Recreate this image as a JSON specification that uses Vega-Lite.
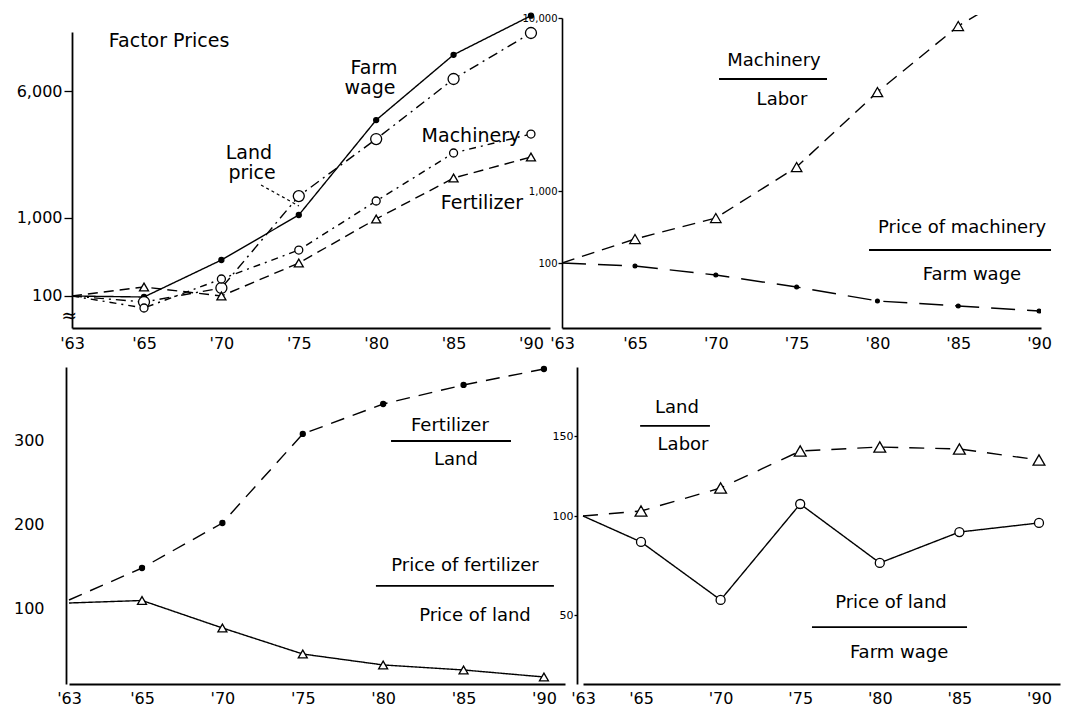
{
  "$schema": "https://vega.github.io/schema/vega-lite/v6.json",
  "background": "white",
  "padding": {"left": 13, "top": 10, "right": 5, "bottom": 5},
  "config": {
    "view": {"stroke": null},
    "font": "DejaVu Sans",
    "axis": {"grid": false, "domainColor": "black", "domainWidth": 1.6, "tickColor": "black", "tickWidth": 1.3, "labelColor": "black", "labelFont": "DejaVu Sans", "title": null, "labelFlush": false},
    "text": {"font": "DejaVu Sans"}
  },
  "datasets": {
    "tl": [
      {"year": 1963, "value": 100, "series": "Farm wage"},
      {"year": 1965, "value": 95.4, "series": "Farm wage"},
      {"year": 1970, "value": 367, "series": "Farm wage"},
      {"year": 1975, "value": 1060, "series": "Farm wage"},
      {"year": 1980, "value": 4370, "series": "Farm wage"},
      {"year": 1985, "value": 8550, "series": "Farm wage"},
      {"year": 1990, "value": 11950, "series": "Farm wage"},
      {"year": 1963, "value": 100, "series": "Land price"},
      {"year": 1965, "value": 74.6, "series": "Land price"},
      {"year": 1970, "value": 141.5, "series": "Land price"},
      {"year": 1975, "value": 1500, "series": "Land price"},
      {"year": 1980, "value": 3470, "series": "Land price"},
      {"year": 1985, "value": 6790, "series": "Land price"},
      {"year": 1990, "value": 10355, "series": "Land price"},
      {"year": 1963, "value": 100, "series": "Machinery"},
      {"year": 1965, "value": 53.8, "series": "Machinery"},
      {"year": 1970, "value": 199.6, "series": "Machinery"},
      {"year": 1975, "value": 482, "series": "Machinery"},
      {"year": 1980, "value": 1376, "series": "Machinery"},
      {"year": 1985, "value": 2890, "series": "Machinery"},
      {"year": 1990, "value": 3695, "series": "Machinery"},
      {"year": 1963, "value": 100, "series": "Fertilizer"},
      {"year": 1965, "value": 147.4, "series": "Fertilizer"},
      {"year": 1970, "value": 100, "series": "Fertilizer"},
      {"year": 1975, "value": 336, "series": "Fertilizer"},
      {"year": 1980, "value": 980, "series": "Fertilizer"},
      {"year": 1985, "value": 2012, "series": "Fertilizer"},
      {"year": 1990, "value": 2735, "series": "Fertilizer"}
    ],
    "tl_text": [
      {"year": 1966.62, "value": 9675, "label": "Factor Prices"},
      {"year": 1979.86, "value": 7555, "label": "Farm"},
      {"year": 1979.6, "value": 6205, "label": "wage"},
      {"year": 1971.78, "value": 2888, "label": "Land"},
      {"year": 1971.98, "value": 2172, "label": "price"},
      {"year": 1986.12, "value": 3606, "label": "Machinery"},
      {"year": 1986.83, "value": 1327, "label": "Fertilizer"},
      {"year": 1962.92, "value": 32, "label": "≈"}
    ],
    "tl_arrow": [
      {"year": 1972.56, "year2": 1975.01, "value": 1802, "value2": 1257}
    ],
    "tr": [
      {"year": 1963, "value": 100, "series": "Machinery/Labor"},
      {"year": 1965, "value": 215.4, "series": "Machinery/Labor"},
      {"year": 1970, "value": 421.7, "series": "Machinery/Labor"},
      {"year": 1975, "value": 1376, "series": "Machinery/Labor"},
      {"year": 1980, "value": 3734, "series": "Machinery/Labor"},
      {"year": 1985, "value": 8990, "series": "Machinery/Labor"},
      {"year": 1990, "value": 17030, "series": "Machinery/Labor"},
      {"year": 1963, "value": 100, "series": "Price of machinery/Farm wage"},
      {"year": 1965, "value": 90.9, "series": "Price of machinery/Farm wage"},
      {"year": 1970, "value": 68.1, "series": "Price of machinery/Farm wage"},
      {"year": 1975, "value": 46.4, "series": "Price of machinery/Farm wage"},
      {"year": 1980, "value": 29.7, "series": "Price of machinery/Farm wage"},
      {"year": 1985, "value": 25.3, "series": "Price of machinery/Farm wage"},
      {"year": 1990, "value": 21.5, "series": "Price of machinery/Farm wage"}
    ],
    "tr_text": [
      {"year": 1973.6, "value": 5641, "label": "Machinery"},
      {"year": 1974.1, "value": 3357, "label": "Labor"},
      {"year": 1985.24, "value": 306, "label": "Price of machinery"},
      {"year": 1985.85, "value": 68.1, "label": "Farm wage"}
    ],
    "tr_bar": [
      {"year": 1970.2, "year2": 1976.88, "value": 4441},
      {"year": 1979.48, "year2": 1990.74, "value": 151.6}
    ],
    "bl": [
      {"year": 1963, "value": 109.6, "series": "Fertilizer/Land"},
      {"year": 1965, "value": 147.9, "series": "Fertilizer/Land"},
      {"year": 1970, "value": 201.8, "series": "Fertilizer/Land"},
      {"year": 1975, "value": 308.4, "series": "Fertilizer/Land"},
      {"year": 1980, "value": 344.3, "series": "Fertilizer/Land"},
      {"year": 1985, "value": 367.1, "series": "Fertilizer/Land"},
      {"year": 1990, "value": 386.2, "series": "Fertilizer/Land"},
      {"year": 1963, "value": 106, "series": "Price of fertilizer/Price of land"},
      {"year": 1965, "value": 109, "series": "Price of fertilizer/Price of land"},
      {"year": 1970, "value": 76.1, "series": "Price of fertilizer/Price of land"},
      {"year": 1975, "value": 44.9, "series": "Price of fertilizer/Price of land"},
      {"year": 1980, "value": 31.8, "series": "Price of fertilizer/Price of land"},
      {"year": 1985, "value": 25.8, "series": "Price of fertilizer/Price of land"},
      {"year": 1990, "value": 17.4, "series": "Price of fertilizer/Price of land"}
    ],
    "bl_text": [
      {"year": 1984.15, "value": 318, "label": "Fertilizer"},
      {"year": 1984.53, "value": 277.3, "label": "Land"},
      {"year": 1985.09, "value": 150.3, "label": "Price of fertilizer"},
      {"year": 1985.71, "value": 90.4, "label": "Price of land"}
    ],
    "bl_bar": [
      {"year": 1980.49, "year2": 1987.95, "value": 300},
      {"year": 1979.55, "year2": 1990.62, "value": 126.4}
    ],
    "br": [
      {"year": 1963, "value": 100, "series": "Land/Labor"},
      {"year": 1965, "value": 103.1, "series": "Land/Labor"},
      {"year": 1970, "value": 117.5, "series": "Land/Labor"},
      {"year": 1975, "value": 140.6, "series": "Land/Labor"},
      {"year": 1980, "value": 143.1, "series": "Land/Labor"},
      {"year": 1985, "value": 141.9, "series": "Land/Labor"},
      {"year": 1990, "value": 135, "series": "Land/Labor"},
      {"year": 1963, "value": 100, "series": "Price of land/Farm wage"},
      {"year": 1965, "value": 86.9, "series": "Price of land/Farm wage"},
      {"year": 1970, "value": 57.6, "series": "Price of land/Farm wage"},
      {"year": 1975, "value": 107.5, "series": "Price of land/Farm wage"},
      {"year": 1980, "value": 76.3, "series": "Price of land/Farm wage"},
      {"year": 1985, "value": 91.9, "series": "Price of land/Farm wage"},
      {"year": 1990, "value": 96.5, "series": "Price of land/Farm wage"}
    ],
    "br_text": [
      {"year": 1967.26, "value": 167.5, "label": "Land"},
      {"year": 1967.64, "value": 144.4, "label": "Labor"},
      {"year": 1980.7, "value": 56.1, "label": "Price of land"},
      {"year": 1981.21, "value": 30.8, "label": "Farm wage"}
    ],
    "br_bar": [
      {"year": 1964.97, "year2": 1969.33, "value": 156.3},
      {"year": 1975.74, "year2": 1985.48, "value": 43.9}
    ]
  },
  "bounds": "flush",
  "align": "none",
  "columns": 2,
  "spacing": {"row": 39, "column": 12},
  "concat": [
    {
      "width": 484,
      "height": 313,
      "encoding": {
        "x": {"field": "year", "type": "quantitative", "scale": {"domain": [1963, 1965, 1991.23], "range": [6, 78, 484], "zero": false, "nice": false},
          "axis": {"title": null, "values": [1963, 1965, 1970, 1975, 1980, 1985, 1990], "labelExpr": "\"'\" + substring(toString(datum.value), 2, 4)", "ticks": false, "labelPadding": 7, "labelFontSize": 16, "domainWidth": 1.8}},
        "y": {"field": "value", "type": "quantitative", "scale": {"type": "pow", "exponent": 0.365, "domain": [11.9, 10445], "range": [313, 17], "zero": false, "nice": false},
          "axis": {"title": null, "values": [100, 1000, 6000], "format": ",.0f", "tickSize": 8, "labelFontSize": 16, "labelPadding": 2, "offset": -6, "domainWidth": 1.8}}
      },
      "layer": [
        {
          "data": {"name": "tl"},
          "mark": {"type": "line", "color": "black", "strokeWidth": 1.4},
          "encoding": {
            "strokeDash": {"field": "series", "type": "nominal", "legend": null,
              "scale": {"domain": ["Farm wage", "Land price", "Machinery", "Fertilizer", "Machinery/Labor", "Price of machinery/Farm wage", "Fertilizer/Land", "Price of fertilizer/Price of land", "Land/Labor", "Price of land/Farm wage"],
                "range": [[1, 0], [10, 5, 2, 5], [7, 5, 2, 5], [10, 6], [13, 8], [24, 12], [14, 9], [1, 0], [15, 11], [1, 0]]}}
          }
        },
        {
          "data": {"name": "tl"},
          "transform": [{"filter": "datum.year > 1963"}],
          "mark": {"type": "point", "filled": true, "stroke": "black", "strokeWidth": 1.3, "opacity": 1},
          "encoding": {
            "shape": {"field": "series", "type": "nominal", "legend": null,
              "scale": {"domain": ["Farm wage", "Land price", "Machinery", "Fertilizer", "Machinery/Labor", "Price of machinery/Farm wage", "Fertilizer/Land", "Price of fertilizer/Price of land", "Land/Labor", "Price of land/Farm wage"],
                "range": ["circle", "circle", "circle", "triangle-up", "triangle-up", "circle", "circle", "triangle-up", "triangle-up", "circle"]}},
            "fill": {"field": "series", "type": "nominal", "legend": null,
              "scale": {"domain": ["Farm wage", "Land price", "Machinery", "Fertilizer", "Machinery/Labor", "Price of machinery/Farm wage", "Fertilizer/Land", "Price of fertilizer/Price of land", "Land/Labor", "Price of land/Farm wage"],
                "range": ["black", "white", "white", "white", "white", "black", "black", "white", "white", "white"]}},
            "size": {"field": "series", "type": "nominal", "legend": null,
              "scale": {"type": "ordinal", "domain": ["Farm wage", "Land price", "Machinery", "Fertilizer", "Machinery/Labor", "Price of machinery/Farm wage", "Fertilizer/Land", "Price of fertilizer/Price of land", "Land/Labor", "Price of land/Farm wage"],
                "range": [25, 121, 64, 81, 110, 14, 25, 81, 140, 81]}}
          }
        },
        {
          "data": {"name": "tl_text"},
          "mark": {"type": "text", "fontSize": 19, "color": "black", "align": "center", "baseline": "middle"},
          "encoding": {"text": {"field": "label", "type": "nominal"}}
        },
        {
          "data": {"name": "tl_arrow"},
          "mark": {"type": "rule", "color": "black", "strokeWidth": 1.2, "strokeDash": [3, 3]},
          "encoding": {"x2": {"field": "year2"}, "y2": {"field": "value2"}}
        }
      ]
    },
    {
      "width": 479,
      "height": 313,
      "encoding": {
        "x": {"field": "year", "type": "quantitative", "scale": {"domain": [1963, 1965, 1990.12], "range": [0, 73, 479], "zero": false, "nice": false},
          "axis": {"title": null, "values": [1963, 1965, 1970, 1975, 1980, 1985, 1990], "labelExpr": "\"'\" + substring(toString(datum.value), 2, 4)", "ticks": false, "labelPadding": 7, "labelFontSize": 16, "domainWidth": 1.8}},
        "y": {"field": "value", "type": "quantitative", "scale": {"type": "log", "domain": [12.51, 100, 1000, 10000], "range": [313, 248, 176, 3], "nice": false},
          "axis": {"title": null, "values": [100, 1000, 10000], "format": ",.0f", "tickSize": 4, "labelFontSize": 10, "labelPadding": 1, "domainWidth": 1.6}}
      },
      "layer": [
        {
          "data": {"name": "tr"},
          "mark": {"type": "line", "color": "black", "strokeWidth": 1.4, "clip": true},
          "encoding": {
            "strokeDash": {"field": "series", "type": "nominal", "legend": null,
              "scale": {"domain": ["Farm wage", "Land price", "Machinery", "Fertilizer", "Machinery/Labor", "Price of machinery/Farm wage", "Fertilizer/Land", "Price of fertilizer/Price of land", "Land/Labor", "Price of land/Farm wage"],
                "range": [[1, 0], [10, 5, 2, 5], [7, 5, 2, 5], [10, 6], [13, 8], [24, 12], [14, 9], [1, 0], [15, 11], [1, 0]]}}
          }
        },
        {
          "data": {"name": "tr"},
          "transform": [{"filter": "datum.year > 1963"}],
          "mark": {"type": "point", "filled": true, "stroke": "black", "strokeWidth": 1.3, "opacity": 1, "clip": true},
          "encoding": {
            "shape": {"field": "series", "type": "nominal", "legend": null,
              "scale": {"domain": ["Farm wage", "Land price", "Machinery", "Fertilizer", "Machinery/Labor", "Price of machinery/Farm wage", "Fertilizer/Land", "Price of fertilizer/Price of land", "Land/Labor", "Price of land/Farm wage"],
                "range": ["circle", "circle", "circle", "triangle-up", "triangle-up", "circle", "circle", "triangle-up", "triangle-up", "circle"]}},
            "fill": {"field": "series", "type": "nominal", "legend": null,
              "scale": {"domain": ["Farm wage", "Land price", "Machinery", "Fertilizer", "Machinery/Labor", "Price of machinery/Farm wage", "Fertilizer/Land", "Price of fertilizer/Price of land", "Land/Labor", "Price of land/Farm wage"],
                "range": ["black", "white", "white", "white", "white", "black", "black", "white", "white", "white"]}},
            "size": {"field": "series", "type": "nominal", "legend": null,
              "scale": {"type": "ordinal", "domain": ["Farm wage", "Land price", "Machinery", "Fertilizer", "Machinery/Labor", "Price of machinery/Farm wage", "Fertilizer/Land", "Price of fertilizer/Price of land", "Land/Labor", "Price of land/Farm wage"],
                "range": [25, 121, 64, 81, 110, 14, 25, 81, 140, 81]}}
          }
        },
        {
          "data": {"name": "tr_text"},
          "mark": {"type": "text", "fontSize": 18, "color": "black", "align": "center", "baseline": "middle"},
          "encoding": {"text": {"field": "label", "type": "nominal"}}
        },
        {
          "data": {"name": "tr_bar"},
          "mark": {"type": "rule", "color": "black", "strokeWidth": 1.8},
          "encoding": {"x2": {"field": "year2"}}
        }
      ]
    },
    {
      "width": 484,
      "height": 317,
      "encoding": {
        "x": {"field": "year", "type": "quantitative", "scale": {"domain": [1963, 1965, 1991.31], "range": [3, 76, 499], "zero": false, "nice": false},
          "axis": {"title": null, "values": [1963, 1965, 1970, 1975, 1980, 1985, 1990], "labelExpr": "\"'\" + substring(toString(datum.value), 2, 4)", "ticks": false, "labelPadding": 6, "labelFontSize": 16, "domainWidth": 1.8}},
        "y": {"field": "value", "type": "quantitative", "scale": {"domain": [9, 388.6], "zero": false, "nice": false},
          "axis": {"title": null, "values": [100, 200, 300], "ticks": false, "labelPadding": 22, "labelFontSize": 16, "domainWidth": 1.8}}
      },
      "layer": [
        {
          "data": {"name": "bl"},
          "mark": {"type": "line", "color": "black", "strokeWidth": 1.4},
          "encoding": {
            "strokeDash": {"field": "series", "type": "nominal", "legend": null,
              "scale": {"domain": ["Farm wage", "Land price", "Machinery", "Fertilizer", "Machinery/Labor", "Price of machinery/Farm wage", "Fertilizer/Land", "Price of fertilizer/Price of land", "Land/Labor", "Price of land/Farm wage"],
                "range": [[1, 0], [10, 5, 2, 5], [7, 5, 2, 5], [10, 6], [13, 8], [24, 12], [14, 9], [1, 0], [15, 11], [1, 0]]}}
          }
        },
        {
          "data": {"name": "bl"},
          "transform": [{"filter": "datum.year > 1963"}],
          "mark": {"type": "point", "filled": true, "stroke": "black", "strokeWidth": 1.3, "opacity": 1},
          "encoding": {
            "shape": {"field": "series", "type": "nominal", "legend": null,
              "scale": {"domain": ["Farm wage", "Land price", "Machinery", "Fertilizer", "Machinery/Labor", "Price of machinery/Farm wage", "Fertilizer/Land", "Price of fertilizer/Price of land", "Land/Labor", "Price of land/Farm wage"],
                "range": ["circle", "circle", "circle", "triangle-up", "triangle-up", "circle", "circle", "triangle-up", "triangle-up", "circle"]}},
            "fill": {"field": "series", "type": "nominal", "legend": null,
              "scale": {"domain": ["Farm wage", "Land price", "Machinery", "Fertilizer", "Machinery/Labor", "Price of machinery/Farm wage", "Fertilizer/Land", "Price of fertilizer/Price of land", "Land/Labor", "Price of land/Farm wage"],
                "range": ["black", "white", "white", "white", "white", "black", "black", "white", "white", "white"]}},
            "size": {"field": "series", "type": "nominal", "legend": null,
              "scale": {"type": "ordinal", "domain": ["Farm wage", "Land price", "Machinery", "Fertilizer", "Machinery/Labor", "Price of machinery/Farm wage", "Fertilizer/Land", "Price of fertilizer/Price of land", "Land/Labor", "Price of land/Farm wage"],
                "range": [25, 121, 64, 81, 110, 14, 25, 81, 140, 81]}}
          }
        },
        {
          "data": {"name": "bl_text"},
          "mark": {"type": "text", "fontSize": 18, "color": "black", "align": "center", "baseline": "middle"},
          "encoding": {"text": {"field": "label", "type": "nominal"}}
        },
        {
          "data": {"name": "bl_bar"},
          "mark": {"type": "rule", "color": "black", "strokeWidth": 1.8},
          "encoding": {"x2": {"field": "year2"}}
        }
      ]
    },
    {
      "width": 498,
      "height": 317,
      "encoding": {
        "x": {"field": "year", "type": "quantitative", "scale": {"domain": [1963, 1965, 1991.32], "range": [21, 79, 498], "zero": false, "nice": false},
          "axis": {"title": null, "values": [1963, 1965, 1970, 1975, 1980, 1985, 1990], "labelExpr": "\"'\" + substring(toString(datum.value), 2, 4)", "ticks": false, "labelPadding": 6, "labelFontSize": 16, "domainWidth": 1.8}},
        "y": {"field": "value", "type": "quantitative", "scale": {"domain": [15.2, 50, 100, 150, 193.1], "range": [317, 248, 149, 69, 0], "zero": false, "nice": false},
          "axis": {"title": null, "values": [50, 100, 150], "tickSize": 3, "labelFontSize": 11, "labelPadding": 1, "offset": -15, "domainWidth": 1.8}}
      },
      "layer": [
        {
          "data": {"name": "br"},
          "mark": {"type": "line", "color": "black", "strokeWidth": 1.4},
          "encoding": {
            "strokeDash": {"field": "series", "type": "nominal", "legend": null,
              "scale": {"domain": ["Farm wage", "Land price", "Machinery", "Fertilizer", "Machinery/Labor", "Price of machinery/Farm wage", "Fertilizer/Land", "Price of fertilizer/Price of land", "Land/Labor", "Price of land/Farm wage"],
                "range": [[1, 0], [10, 5, 2, 5], [7, 5, 2, 5], [10, 6], [13, 8], [24, 12], [14, 9], [1, 0], [15, 11], [1, 0]]}}
          }
        },
        {
          "data": {"name": "br"},
          "transform": [{"filter": "datum.year > 1963"}],
          "mark": {"type": "point", "filled": true, "stroke": "black", "strokeWidth": 1.3, "opacity": 1},
          "encoding": {
            "shape": {"field": "series", "type": "nominal", "legend": null,
              "scale": {"domain": ["Farm wage", "Land price", "Machinery", "Fertilizer", "Machinery/Labor", "Price of machinery/Farm wage", "Fertilizer/Land", "Price of fertilizer/Price of land", "Land/Labor", "Price of land/Farm wage"],
                "range": ["circle", "circle", "circle", "triangle-up", "triangle-up", "circle", "circle", "triangle-up", "triangle-up", "circle"]}},
            "fill": {"field": "series", "type": "nominal", "legend": null,
              "scale": {"domain": ["Farm wage", "Land price", "Machinery", "Fertilizer", "Machinery/Labor", "Price of machinery/Farm wage", "Fertilizer/Land", "Price of fertilizer/Price of land", "Land/Labor", "Price of land/Farm wage"],
                "range": ["black", "white", "white", "white", "white", "black", "black", "white", "white", "white"]}},
            "size": {"field": "series", "type": "nominal", "legend": null,
              "scale": {"type": "ordinal", "domain": ["Farm wage", "Land price", "Machinery", "Fertilizer", "Machinery/Labor", "Price of machinery/Farm wage", "Fertilizer/Land", "Price of fertilizer/Price of land", "Land/Labor", "Price of land/Farm wage"],
                "range": [25, 121, 64, 81, 110, 14, 25, 81, 140, 81]}}
          }
        },
        {
          "data": {"name": "br_text"},
          "mark": {"type": "text", "fontSize": 18, "color": "black", "align": "center", "baseline": "middle"},
          "encoding": {"text": {"field": "label", "type": "nominal"}}
        },
        {
          "data": {"name": "br_bar"},
          "mark": {"type": "rule", "color": "black", "strokeWidth": 1.8},
          "encoding": {"x2": {"field": "year2"}}
        }
      ]
    }
  ]
}
